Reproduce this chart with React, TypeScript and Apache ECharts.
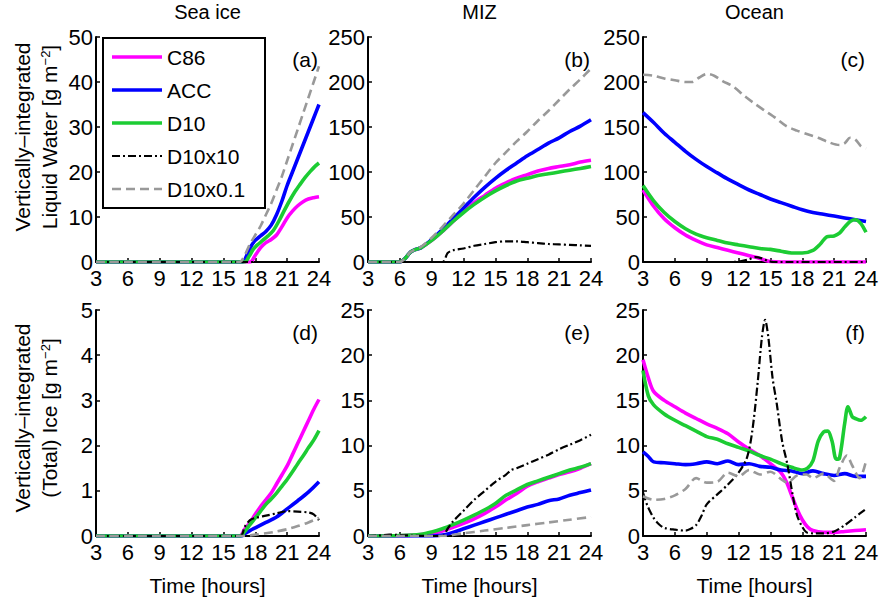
import React, { useEffect, useRef } from "react";
import * as echarts from "echarts";

type Pt = [number, number];

const SERIES_NAMES = ["C86", "ACC", "D10", "D10x10", "D10x0.1"];
const COLUMN_TITLES = ["Sea ice", "MIZ", "Ocean"];
const PANEL_LABELS = ["(a)", "(b)", "(c)", "(d)", "(e)", "(f)"];
const X_MIN = 3;
const X_MAX = 24;
const X_STEP = 3;
const Y_MAX = [50, 250, 250, 5, 25, 25];
const Y_STEP = [10, 50, 50, 1, 5, 5];
const Y_NAMES = [
  ["Vertically\u2013integrated", "Liquid Water [g m{sup|\u22122}]"],
  ["Vertically\u2013integrated", "(Total) Ice [g m{sup|\u22122}]"],
];
const X_NAME = "Time [hours]";

// (a) Sea ice, liquid water
const aC86: Pt[] = [[3,0],[17.5,0],[18,1.5],[18.5,3.2],[19,4.3],[19.5,5],[20,6],[20.5,7.8],[21,9.8],[21.5,11.3],[22,12.5],[22.5,13.4],[23,14],[23.5,14.3],[24,14.5]];
const aACC: Pt[] = [[3,0],[16.8,0],[17.2,1.5],[17.6,3.5],[18,4.8],[18.5,5.8],[19,6.8],[19.5,8.2],[20,10.5],[20.5,13.5],[21,17],[21.5,20],[22,23],[22.5,26],[23,29],[23.5,32],[24,35]];
const aD10: Pt[] = [[3,0],[17,0],[17.4,1.2],[17.8,2.8],[18.2,3.8],[18.7,4.8],[19.2,5.8],[19.7,7],[20.2,9],[20.7,11.3],[21.2,13.5],[21.7,15.5],[22.2,17.2],[22.7,18.8],[23.2,20.2],[23.6,21.2],[24,22]];
const aD10x10: Pt[] = [[3,0],[24,0]];
const aD10x01: Pt[] = [[3,0],[16.5,0],[17,1.5],[17.5,4],[18,6],[18.5,8],[19,10.5],[19.5,13],[20,16],[20.5,19],[21,22.5],[21.5,26],[22,29.5],[22.5,33],[23,36.5],[23.5,40],[24,43.5]];

// (b) MIZ, liquid water
const bC86: Pt[] = [[3,0],[6,0],[6.5,4],[7,11],[7.5,14],[8,16],[9,24],[10,34],[11,45],[12,56],[13,66],[14,74],[15,82],[16,88],[17,93],[18,97],[19,101],[20,104],[21,106],[22,108],[23,111],[24,113]];
const bACC: Pt[] = [[3,0],[6,0],[6.5,4],[7,11],[7.5,14],[8,16],[9,25],[10,36],[11,48],[12,60],[13,72],[14,83],[15,93],[16,102],[17,110],[18,118],[19,125],[20,132],[21,138],[22,145],[23,151],[24,158]];
const bD10: Pt[] = [[3,0],[6,0],[6.5,4],[7,11],[7.5,14],[8,16],[9,24],[10,34],[11,45],[12,55],[13,64],[14,72],[15,79],[16,85],[17,90],[18,93],[19,96],[20,98],[21,100],[22,102],[23,104],[24,106]];
const bD10x10: Pt[] = [[3,0],[10,0],[10.5,10],[11,13],[12,15],[13,18],[14,20],[15,22],[16,23],[17,23],[18,22],[19,21],[20,20],[21,19.5],[22,19],[23,18.5],[24,18]];
const bD10x01: Pt[] = [[3,0],[6,0],[6.5,4],[7,11],[7.5,14],[8,17],[9,27],[10,39],[11,52],[12,65],[13,80],[14,95],[15,110],[16,122],[17,134],[18,145],[19,157],[20,168],[21,180],[22,192],[23,203],[24,215]];

// (c) Ocean, liquid water
const cC86: Pt[] = [[3,80],[4,62],[5,48],[6,38],[7,30],[8,24],[9,19],[10,16],[11,13],[12,10],[13,7],[14,4],[14.5,2],[15,0.5],[16,0],[24,0]];
const cACC: Pt[] = [[3,166],[4,155],[5,143],[6,133],[7,123],[8,114],[9,106],[10,99],[11,92],[12,86],[13,80],[14,75],[15,70],[16,66],[17,62],[18,58],[19,55],[20,53],[21,51],[22,49],[23,47],[24,45]];
const cD10: Pt[] = [[3,85],[4,68],[5,55],[6,45],[7,37],[8,31],[9,27],[10,24],[11,21],[12,19],[13,17],[14,15],[15,14],[16,12],[17,10],[18,10],[19,13],[19.7,20],[20.3,28],[21,29],[21.5,32],[22,39],[22.5,45],[23,47],[23.5,43],[24,33]];
const cD10x10: Pt[] = [[3,0],[11,0],[12,0.5],[13,3],[13.6,5.5],[14.2,4],[14.8,1],[15.3,0],[24,0]];
const cD10x01: Pt[] = [[3,208],[4,207],[5,204],[6,202],[7,200],[7.6,200],[8.3,205],[9,209],[9.7,207],[10.5,201],[11.5,195],[12.5,185],[13.5,176],[14.5,168],[15.5,160],[16.5,151],[17.5,146],[18.5,142],[19.5,138],[20.5,133],[21.5,130],[22,132],[22.5,138],[23,136],[23.5,129],[24,126]];

// (d) Sea ice, total ice
const dC86: Pt[] = [[3,0],[16.5,0],[17,0.15],[17.5,0.3],[18,0.48],[18.5,0.65],[19,0.8],[19.5,0.95],[20,1.15],[20.5,1.35],[21,1.55],[21.5,1.8],[22,2.05],[22.5,2.3],[23,2.55],[23.5,2.8],[24,3.02]];
const dACC: Pt[] = [[3,0],[16.7,0],[17,0.05],[17.5,0.12],[18,0.18],[19,0.3],[20,0.42],[21,0.6],[22,0.78],[23,0.97],[24,1.2]];
const dD10: Pt[] = [[3,0],[16.6,0],[17,0.1],[17.5,0.25],[18,0.4],[18.5,0.55],[19,0.7],[19.5,0.82],[20,0.95],[20.5,1.1],[21,1.25],[21.5,1.42],[22,1.6],[22.5,1.77],[23,1.95],[23.5,2.12],[24,2.33]];
const dD10x10: Pt[] = [[3,0],[16.6,0],[17,0.2],[17.5,0.35],[18,0.4],[19,0.45],[20,0.5],[21,0.55],[22,0.54],[23,0.52],[23.5,0.48],[24,0.35]];
const dD10x01: Pt[] = [[3,0],[17,0],[18,0.03],[19,0.06],[20,0.1],[21,0.15],[22,0.22],[23,0.3],[24,0.4]];

// (e) MIZ, total ice
const eC86: Pt[] = [[3,0],[6,0.02],[8,0.15],[9,0.3],[10,0.55],[11,0.95],[12,1.4],[13,1.9],[14,2.5],[15,3.2],[16,4.0],[17,4.7],[18,5.5],[19,6.0],[20,6.4],[21,6.8],[22,7.1],[23,7.5],[24,8.0]];
const eACC: Pt[] = [[3,0],[9,0],[10,0.1],[11,0.4],[12,0.8],[13,1.2],[14,1.6],[15,2.0],[16,2.4],[17,2.8],[18,3.2],[19,3.5],[20,3.9],[21,4.1],[22,4.5],[23,4.8],[24,5.1]];
const eD10: Pt[] = [[3,0],[6,0.05],[8,0.2],[9,0.45],[10,0.8],[11,1.25],[12,1.75],[13,2.3],[14,2.9],[15,3.6],[16,4.5],[17,5.1],[18,5.7],[19,6.1],[20,6.5],[21,6.9],[22,7.3],[23,7.6],[24,8.0]];
const eD10x10: Pt[] = [[3,0],[4,0.05],[5,0.15],[6,0.1],[7,0.05],[9,0],[10,0],[10.5,0.8],[11,1.6],[12,2.8],[13,4.0],[14,5.0],[15,6.0],[16,6.8],[16.5,7.3],[17,7.5],[18,8.0],[19,8.5],[20,9.0],[21,9.6],[22,10.1],[23,10.6],[24,11.2]];
const eD10x01: Pt[] = [[3,0],[10,0],[12,0.3],[14,0.6],[16,0.9],[18,1.2],[20,1.5],[22,1.8],[24,2.1]];

// (f) Ocean, total ice
const fC86: Pt[] = [[3,19.5],[3.5,17.5],[4,16],[5,15],[6,14.3],[7,13.6],[8,13],[9,12.4],[10,11.9],[11,11.3],[12,10.4],[13,9.6],[14,8.9],[15,8.0],[16,7.0],[16.5,6.0],[17,4.5],[17.5,3.0],[18,1.8],[18.5,1.0],[19,0.6],[20,0.4],[21,0.4],[22,0.5],[23,0.6],[24,0.7]];
const fACC: Pt[] = [[3,9.3],[3.5,8.8],[4,8.2],[5,8.1],[6,8.0],[7,7.9],[8,8.0],[9,8.2],[10,8.0],[11,8.3],[12,7.9],[13,8.0],[14,7.7],[15,7.6],[16,7.3],[17,7.2],[18,6.9],[19,7.2],[20,6.9],[21,6.7],[22,6.9],[23,6.6],[24,6.6]];
const fD10: Pt[] = [[3,18.3],[3.5,15.5],[4,14.5],[5,13.5],[6,12.8],[7,12.2],[8,11.6],[9,11.0],[10,10.7],[11,10.2],[12,9.8],[13,9.4],[14,8.9],[15,8.5],[16,8.0],[17,7.6],[18,7.3],[18.5,7.5],[19,8.3],[19.5,10.5],[20,11.5],[20.4,11.6],[20.8,10.5],[21.2,8.5],[21.5,8.6],[22,12.5],[22.3,14.3],[22.7,13.2],[23,13.0],[23.5,12.8],[24,13.2]];
const fD10x10: Pt[] = [[3,4.8],[3.4,3.4],[4,2.0],[4.5,1.3],[5,0.9],[6,0.7],[7,0.6],[7.5,0.8],[8,1.2],[8.5,2.2],[9,3.5],[10,4.6],[11,5.7],[12,7.0],[12.8,8.7],[13.3,11.7],[13.8,17],[14.2,22],[14.5,23.9],[14.8,22],[15.2,17.5],[15.6,14.6],[16.1,10.5],[16.6,7.9],[17.1,4.5],[17.5,2.3],[18,1.0],[18.4,0.4],[19,0.3],[20,0.3],[21,0.5],[22,1.2],[23,2.1],[24,3.0]];
const fD10x01: Pt[] = [[3,4.4],[4,4.0],[5,4.1],[6,4.5],[7,5.2],[8,6.4],[9,5.9],[10,6.0],[11,7.0],[12,6.6],[13,7.3],[14,6.8],[15,7.1],[16,6.3],[16.6,5.9],[17.5,6.7],[18.4,6.8],[19,6.4],[20,6.9],[21,6.1],[21.5,7.5],[22.2,8.9],[22.7,7.8],[23.4,6.4],[24,8.3]];

const PANELS: Pt[][][] = [
  [aC86, aACC, aD10, aD10x10, aD10x01],
  [bC86, bACC, bD10, bD10x10, bD10x01],
  [cC86, cACC, cD10, cD10x10, cD10x01],
  [dC86, dACC, dD10, dD10x10, dD10x01],
  [eC86, eACC, eD10, eD10x10, eD10x01],
  [fC86, fACC, fD10, fD10x10, fD10x01],
];

const LINE_STYLES: { color: string; width: number; type: any }[] = [
  { color: "#ff00ff", width: 3.6, type: "solid" },
  { color: "#0000ff", width: 3.6, type: "solid" },
  { color: "#1ccc33", width: 3.6, type: "solid" },
  { color: "#000000", width: 2.2, type: [8, 3, 2, 3] },
  { color: "#999999", width: 2.6, type: [9, 5] },
];

const FONT = '"Liberation Sans", Arial, Helvetica, sans-serif';
const COL_LEFT = [96, 368, 643];
const COL_W = 223;
const ROW_TOP = [37, 310];
const ROW_H = [225, 226];

function buildOption(): any {
  const grid: any[] = [];
  const xAxis: any[] = [];
  const yAxis: any[] = [];
  const series: any[] = [];
  for (let i = 0; i < 6; i++) {
    const r = Math.floor(i / 3);
    const c = i % 3;
    grid.push({ left: COL_LEFT[c], top: ROW_TOP[r], width: COL_W, height: ROW_H[r], containLabel: false });
    const common = {
      gridIndex: i,
      type: "value",
      axisLine: { show: true, onZero: false, lineStyle: { color: "#000", width: 2 } },
      axisTick: { show: true, inside: true, length: 4, lineStyle: { color: "#000", width: 1.5 } },
      splitLine: { show: false },
    };
    xAxis.push({
      ...common,
      min: X_MIN,
      max: X_MAX,
      interval: X_STEP,
      axisLabel: { color: "#000", fontSize: 22, fontFamily: FONT, margin: 5, showMinLabel: true, showMaxLabel: true },
    });
    yAxis.push({
      ...common,
      min: 0,
      max: Y_MAX[i],
      interval: Y_STEP[i],
      axisLabel: { color: "#000", fontSize: 22, fontFamily: FONT, margin: 3, showMinLabel: true, showMaxLabel: true },
    });
    PANELS[i].forEach((data, k) => {
      const s = LINE_STYLES[k];
      series.push({
        name: SERIES_NAMES[k],
        type: "line",
        xAxisIndex: i,
        yAxisIndex: i,
        data,
        symbol: "none",
        showSymbol: false,
        smooth: 0.3,
        silent: true,
        z: 2 + k,
        lineStyle: { color: s.color, width: s.width, type: s.type, cap: "butt", join: "round" },
      });
    });
  }

  const graphic: any[] = [];
  for (let c = 0; c < 3; c++) {
    const cx = COL_LEFT[c] + COL_W / 2;
    graphic.push({
      type: "text",
      x: cx,
      y: 12,
      style: { text: COLUMN_TITLES[c], font: `20px ${FONT}`, fill: "#000", align: "center", verticalAlign: "middle" },
    });
    graphic.push({
      type: "text",
      x: cx,
      y: 585,
      style: { text: X_NAME, font: `21px ${FONT}`, fill: "#000", align: "center", verticalAlign: "middle" },
    });
  }
  for (let i = 0; i < 6; i++) {
    const r = Math.floor(i / 3);
    const c = i % 3;
    graphic.push({
      type: "text",
      x: COL_LEFT[c] + COL_W - 1,
      y: ROW_TOP[r] + 22,
      style: { text: PANEL_LABELS[i], font: `21px ${FONT}`, fill: "#000", align: "right", verticalAlign: "middle" },
    });
  }
  const yCenters = [137, 418];
  for (let r = 0; r < 2; r++) {
    Y_NAMES[r].forEach((t, j) => {
      graphic.push({
        type: "text",
        x: 22 + j * 27,
        y: yCenters[r],
        rotation: Math.PI / 2,
        style: {
          text: t,
          font: `21px ${FONT}`,
          fill: "#000",
          align: "center",
          verticalAlign: "middle",
          rich: { sup: { fontSize: 13, fontFamily: FONT, verticalAlign: "top", fill: "#000" } },
        },
      });
    });
  }
  const LX = 103, LY = 38, LW = 162, LH = 170;
  graphic.push({
    type: "rect",
    shape: { x: LX, y: LY, width: LW, height: LH },
    style: { fill: "#fff", stroke: "#000", lineWidth: 2 },
    z: 50,
  });
  SERIES_NAMES.forEach((name, k) => {
    const y = 57 + k * 33;
    const s = LINE_STYLES[k];
    graphic.push({
      type: "line",
      shape: { x1: 112, y1: y, x2: 162, y2: y },
      style: { stroke: s.color, lineWidth: s.width, lineDash: Array.isArray(s.type) ? s.type : null },
      z: 51,
    });
    graphic.push({
      type: "text",
      x: 167,
      y,
      style: { text: name, font: `21px ${FONT}`, fill: "#000", align: "left", verticalAlign: "middle" },
      z: 51,
    });
  });

  return {
    animation: false,
    backgroundColor: "#ffffff",
    grid,
    xAxis,
    yAxis,
    series,
    graphic,
  };
}

export default function App() {
  const ref = useRef<HTMLDivElement>(null);
  useEffect(() => {
    if (!ref.current) return;
    const chart = echarts.init(ref.current, null, { renderer: "svg" });
    chart.setOption(buildOption());
    return () => chart.dispose();
  }, []);
  return (
    <div
      ref={ref}
      style={{ position: "absolute", left: 0, top: 0, width: 884, height: 605, background: "#fff" }}
    />
  );
}
